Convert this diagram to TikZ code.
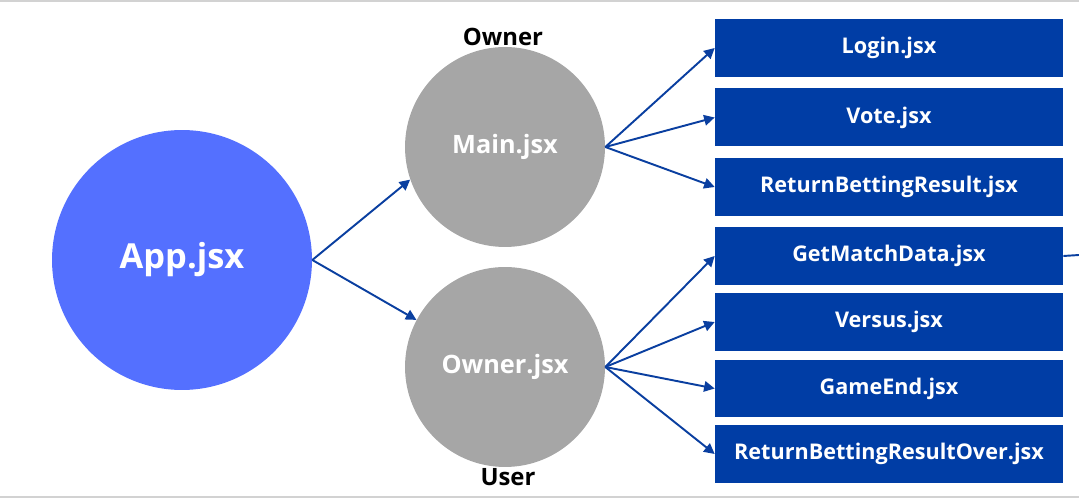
\documentclass[tikz,border=0pt]{standalone}
\usepackage{fontspec}
\setmainfont{Open Sans}
\usetikzlibrary{arrows.meta}
\definecolor{appblue}{HTML}{5470FF}
\definecolor{pagegray}{HTML}{A6A6A6}
\definecolor{boxblue}{HTML}{003DA5}
\definecolor{linkblue}{HTML}{0A3FA0}
\begin{document}
\begin{tikzpicture}[x=0.02cm, y=-0.02cm,
    appnode/.style={circle, fill=appblue, minimum size=5.2cm, inner sep=0pt, text=white, font=\bfseries\fontsize{19.6}{22}\selectfont},
    pagenode/.style={circle, fill=pagegray, minimum size=4cm, inner sep=0pt, text=white, font=\bfseries\fontsize{14.4}{17}\selectfont},
    filebox/.style={rectangle, fill=boxblue, minimum width=6.96cm, minimum height=1.16cm, inner sep=0pt, text=white, font=\bfseries\fontsize{12.3}{14}\selectfont},
    roletext/.style={font=\bfseries\fontsize{13.6}{15}\selectfont},
    link/.style={linkblue, line width=1.1pt, -{Triangle[length=6pt, width=6pt]}}]
    \useasboundingbox (0,0) rectangle (1079,499);
    % frame lines
    \draw[gray!35, line width=1.5pt] (0,1) -- (1079,1);
    \draw[gray!35, line width=1.5pt] (0,497) -- (1079,497);

    % circles
    \node[appnode] (app) at (182,260) {App.jsx};
    \node[pagenode] (main) at (505,147) {Main.jsx};
    \node[pagenode] (owner) at (505,367) {Owner.jsx};
    \node[roletext] (ownerlabel) at (503,37) {Owner};
    \node[roletext] (userlabel) at (508,477) {User};

    % component boxes
    \node[filebox] (login) at (889,48) {Login.jsx};
    \node[filebox] (vote) at (889,117.5) {Vote.jsx};
    \node[filebox] (result) at (889,187) {ReturnBettingResult.jsx};
    \node[filebox] (match) at (889,256) {GetMatchData.jsx};
    \node[filebox] (versus) at (889,322) {Versus.jsx};
    \node[filebox] (gameend) at (889,388.5) {GameEnd.jsx};
    \node[filebox] (resultover) at (889,454) {ReturnBettingResultOver.jsx};
    \coordinate (offpage) at (1079,255);

    % links
    \draw[link] (app.east) -- (main.199);
    \draw[link] (app.east) -- (owner.152);
    \draw[link] (main.east) -- (login.west);
    \draw[link] (main.east) -- (vote.west);
    \draw[link] (main.east) -- (result.west);
    \draw[link] (owner.east) -- (match.west);
    \draw[link] (owner.east) -- (versus.west);
    \draw[link] (owner.east) -- (gameend.west);
    \draw[link] (owner.east) -- (resultover.west);
    \draw[linkblue, line width=1.1pt] (match.east) -- (offpage);
\end{tikzpicture}
\end{document}
